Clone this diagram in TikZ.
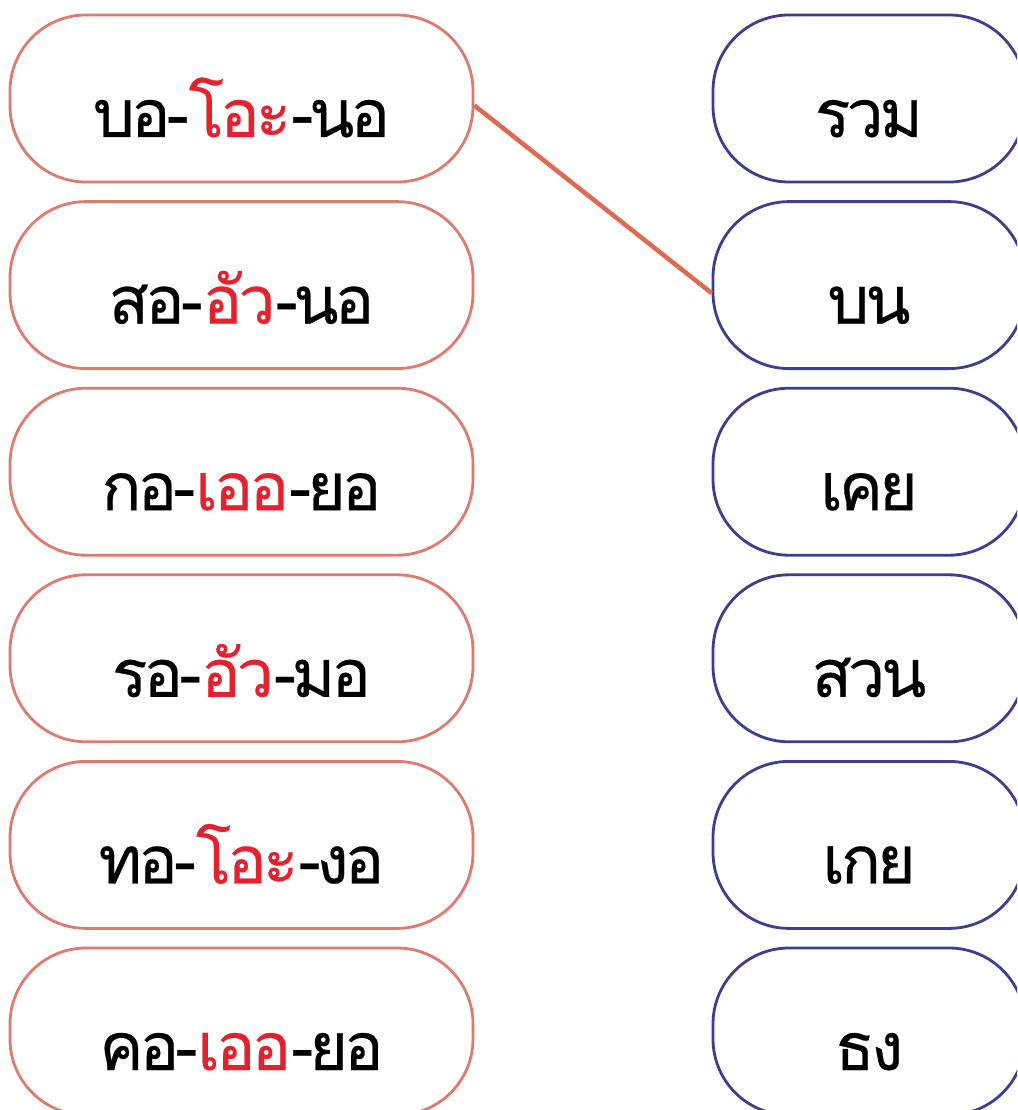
\documentclass[tikz,border=0pt]{standalone}
\usepackage{fontspec}
\newfontfamily\thaifont[Script=Thai,LetterSpace=-6,FakeBold=0.4]{Loma}
\definecolor{lbox}{HTML}{DE7B6F}
\definecolor{rbox}{HTML}{3F3D8F}
\definecolor{lnk}{HTML}{E06A50}
\definecolor{vred}{HTML}{E3222E}
\begin{document}
\begin{tikzpicture}[x=1pt,y=-1pt,
  pill/.style={draw, line width=2.8pt, rounded corners=76pt, minimum height=167pt,
     inner sep=0pt, text height=77pt, text depth=0pt, font=\thaifont\fontsize{66}{76}\selectfont},
  lpill/.style={pill, draw=lbox, minimum width=463pt},
  rpill/.style={pill, draw=rbox, minimum width=312pt},
  link/.style={draw=lnk, line width=4.5pt}]
\useasboundingbox (0,0) rectangle (1017,1110);
\clip (0,0) rectangle (1017,1110);
\fill[white] (0,0) rectangle (1017,1110);
\node[lpill] (l1) at (241.5,98.5) {บอ-\textcolor{vred}{โอะ}-นอ};
\node[lpill] (l2) at (241.5,285.1) {สอ-\textcolor{vred}{อัว}-นอ};
\node[lpill] (l3) at (241.5,471.7) {กอ-\textcolor{vred}{เออ}-ยอ};
\node[lpill] (l4) at (241.5,658.3) {รอ-\textcolor{vred}{อัว}-มอ};
\node[lpill] (l5) at (241.5,844.9) {ทอ-\textcolor{vred}{โอะ}-งอ};
\node[lpill] (l6) at (241.5,1031.5) {คอ-\textcolor{vred}{เออ}-ยอ};
\node[rpill] (r1) at (869,98.5) {รวม};
\node[rpill] (r2) at (869,285.1) {บน};
\node[rpill] (r3) at (869,471.7) {เคย};
\node[rpill] (r4) at (869,658.3) {สวน};
\node[rpill] (r5) at (869,844.9) {เกย};
\node[rpill] (r6) at (869,1031.5) {ธง};
\draw[link] ([yshift=-7pt]l1.east) -- ([yshift=-8pt]r2.west);
\end{tikzpicture}
\end{document}
